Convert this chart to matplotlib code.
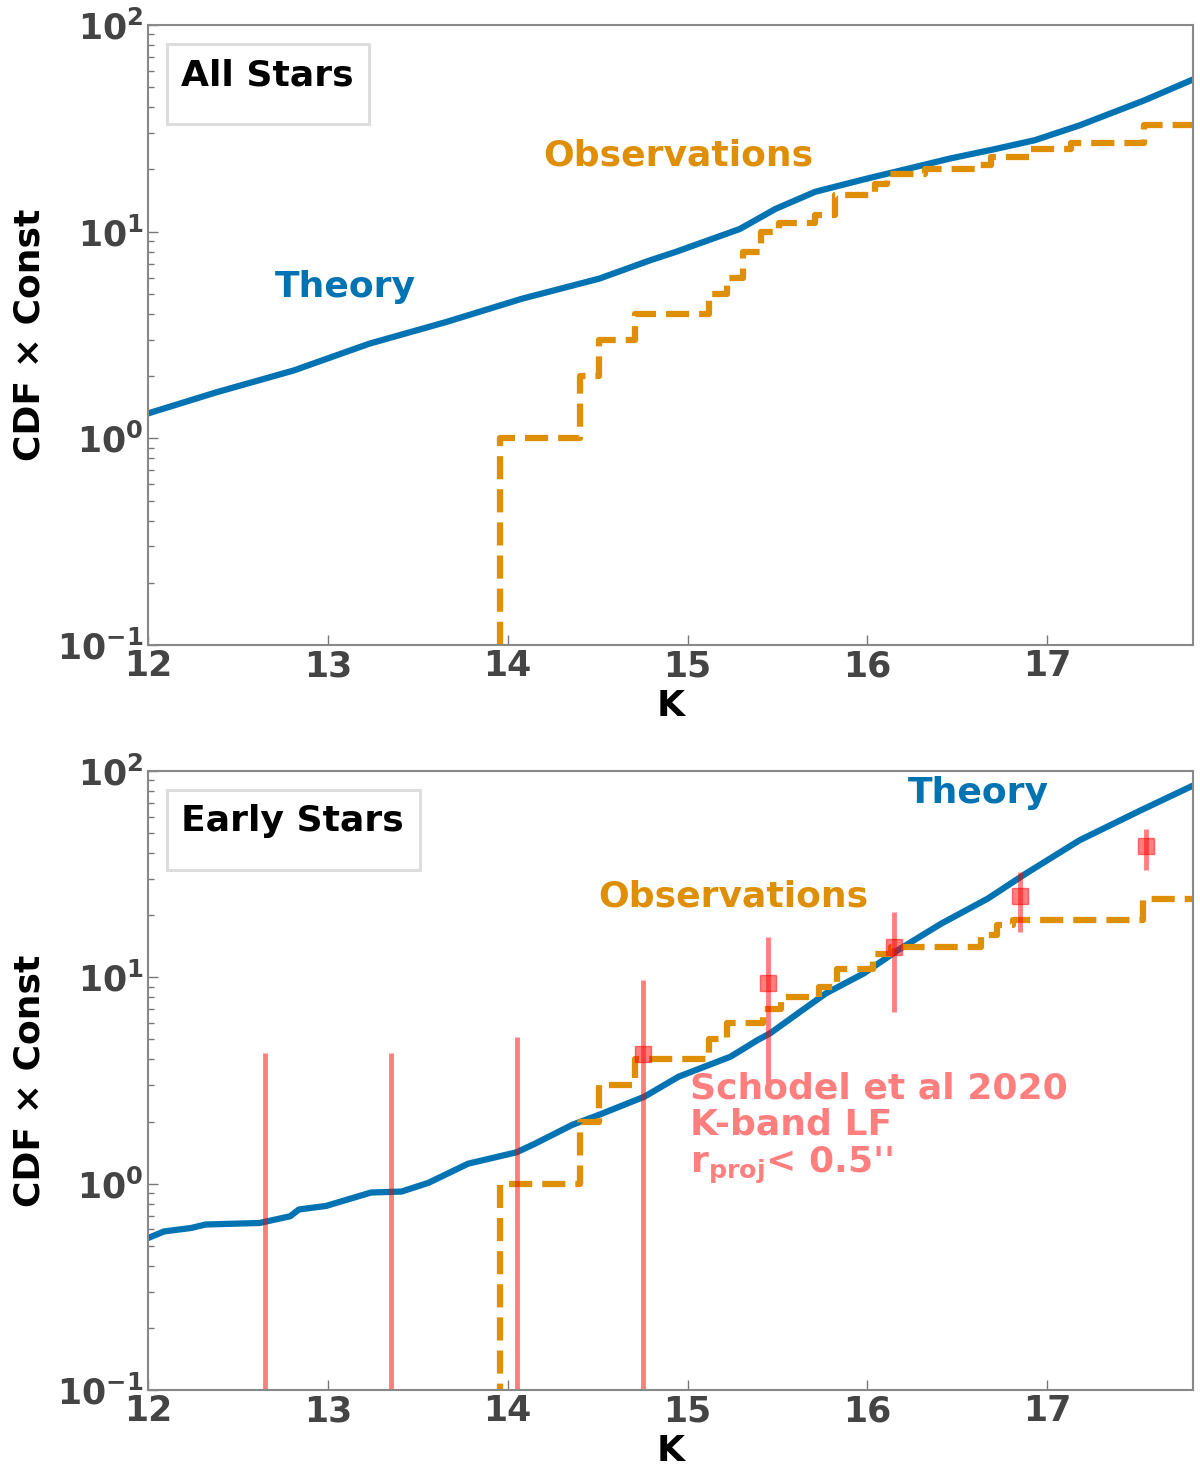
import numpy as np
import matplotlib
matplotlib.use("Agg")
import matplotlib.pyplot as plt
from matplotlib.patches import Rectangle

# ---- data ----
# top panel: all stars
theory_all_k = [12.0, 12.38, 12.81, 13.23, 13.66, 14.08, 14.51, 14.79, 14.93, 15.29,
                15.49, 15.71, 15.99, 16.27, 16.46, 16.7, 16.93, 17.18, 17.54, 17.81]
theory_all_n = [1.32, 1.67, 2.13, 2.87, 3.66, 4.74, 5.93, 7.26, 7.96, 10.3,
                12.9, 15.6, 18.0, 20.6, 22.6, 25.0, 27.7, 32.7, 43.2, 54.5]

obs_all_k = [13.96, 13.96, 14.40, 14.51, 14.71, 15.12, 15.22, 15.31, 15.41, 15.51,
             15.71, 15.82, 16.04, 16.11, 16.32, 16.62, 16.69, 16.91, 17.13, 17.54, 17.82]
obs_all_n = [0, 1, 2, 3, 4, 5, 6, 8, 10, 11,
             12, 15, 17, 19, 20, 21, 23, 25, 27, 33, 33]

# bottom panel: early stars
theory_early_k = [12.0, 12.09, 12.24, 12.32, 12.62, 12.79, 12.84, 12.99, 13.24, 13.41,
                  13.56, 13.78, 14.05, 14.15, 14.36, 14.51, 14.76, 14.95, 15.24, 15.39,
                  15.46, 15.64, 15.77, 15.98, 16.17, 16.41, 16.67, 16.88, 17.18, 17.52, 17.81]
theory_early_n = [0.545, 0.587, 0.61, 0.634, 0.645, 0.695, 0.75, 0.78, 0.906, 0.916,
                  1.01, 1.25, 1.42, 1.56, 1.93, 2.16, 2.64, 3.3, 4.13, 4.97,
                  5.36, 6.95, 8.37, 10.45, 13.55, 18.2, 24.1, 31.8, 46.2, 64.5, 85.0]

obs_early_k = [13.96, 13.96, 14.40, 14.51, 14.71, 15.12, 15.22, 15.42, 15.52, 15.73,
               15.83, 16.03, 16.13, 16.63, 16.72, 16.81, 17.53, 17.82]
obs_early_n = [0, 1, 2, 3, 4, 5, 6, 7, 8, 9,
               11, 13, 14, 16, 18, 19, 24, 24]

# Schodel et al 2020 K-band LF
lf_k = [12.65, 13.35, 14.05, 14.75, 15.45, 16.15, 16.85, 17.55]
lf_n = [0.01, 0.01, 0.01, 4.26, 9.4, 14.0, 24.7, 43.2]
lf_lo = [0.01, 0.01, 0.01, 0.01, 3.08, 6.8, 16.6, 33.3]
lf_hi = [4.3, 4.3, 5.14, 9.7, 15.7, 20.8, 32.4, 52.6]

blue = '#0173b2'
orange = '#de8f05'

plt.rcParams['font.family'] = 'DejaVu Sans'
plt.rcParams['font.weight'] = 'bold'
plt.rcParams['mathtext.fontset'] = 'custom'
plt.rcParams['mathtext.rm'] = 'DejaVu Sans:bold'
plt.rcParams['mathtext.it'] = 'DejaVu Sans:bold'
plt.rcParams['mathtext.bf'] = 'DejaVu Sans:bold'

fig = plt.figure(figsize=(12, 14.72), dpi=100)
ax1 = fig.add_axes([0.1233, 0.5618, 0.8708, 0.4212])
ax2 = fig.add_axes([0.1233, 0.0557, 0.8708, 0.4205])


def style(ax, title, box_w):
    ax.set_yscale('log')
    ax.set_xlim(12, 17.81)
    ax.set_ylim(0.1, 100)
    ax.set_xticks([12, 13, 14, 15, 16, 17])
    ax.tick_params(which='both', direction='in', colors='#444444',
                   labelsize=25, pad=3)
    ax.tick_params(which='major', length=7, width=1, color='#777777')
    ax.tick_params(which='minor', length=4, width=1, color='#777777')
    ax.tick_params(axis='x', which='minor', length=0)
    for s in ax.spines.values():
        s.set_color('#888888')
        s.set_linewidth(1.5)
    ax.set_xlabel('K', fontsize=26, fontweight='bold', labelpad=4)
    ax.set_ylabel('CDF × Const', fontsize=26, fontweight='bold', labelpad=8)
    # legend-like box with title
    ax.add_patch(Rectangle((0.0179, 0.8398), box_w, 0.1296, transform=ax.transAxes,
                           facecolor='white', edgecolor='#dddddd', lw=2.2, zorder=5))
    ax.text(0.0316, 0.903, title, fontsize=26, fontweight='bold', color='black',
            transform=ax.transAxes, va='baseline', zorder=6)


# top panel
ax1.plot(theory_all_k, theory_all_n, color=blue, lw=4.5)
ax1.step(obs_all_k, obs_all_n, where='post', color=orange, lw=4.5, ls='--')
style(ax1, 'All Stars', 0.1939)
ax1.text(0.1215, 0.577, 'Theory', color=blue, fontsize=26, fontweight='bold',
         transform=ax1.transAxes, va='center')
ax1.text(0.378, 0.79, 'Observations', color=orange, fontsize=26, fontweight='bold',
         transform=ax1.transAxes, va='center')

# bottom panel
ax2.plot(theory_early_k, theory_early_n, color=blue, lw=4.5)
ax2.step(obs_early_k, obs_early_n, where='post', color=orange, lw=4.5, ls='--')
lf_n = np.array(lf_n)
yerr = [lf_n - np.array(lf_lo), np.array(lf_hi) - lf_n]
ax2.errorbar(lf_k, lf_n, yerr=yerr, fmt='s', color='red', alpha=0.5,
             markersize=11, elinewidth=3.5, capsize=0)
style(ax2, 'Early Stars', 0.2424)
ax2.text(0.727, 0.964, 'Theory', color=blue, fontsize=26, fontweight='bold',
         transform=ax2.transAxes, va='center')
ax2.text(0.431, 0.798, 'Observations', color=orange, fontsize=26, fontweight='bold',
         transform=ax2.transAxes, va='center')
ax2.text(0.519, 0.515, "Schodel et al 2020\nK-band LF\nr$_{proj}$< 0.5''",
         color='#ff7f7f', fontsize=26, fontweight='bold', linespacing=1.1,
         transform=ax2.transAxes, va='top')

fig.savefig('out.png', dpi=100)
